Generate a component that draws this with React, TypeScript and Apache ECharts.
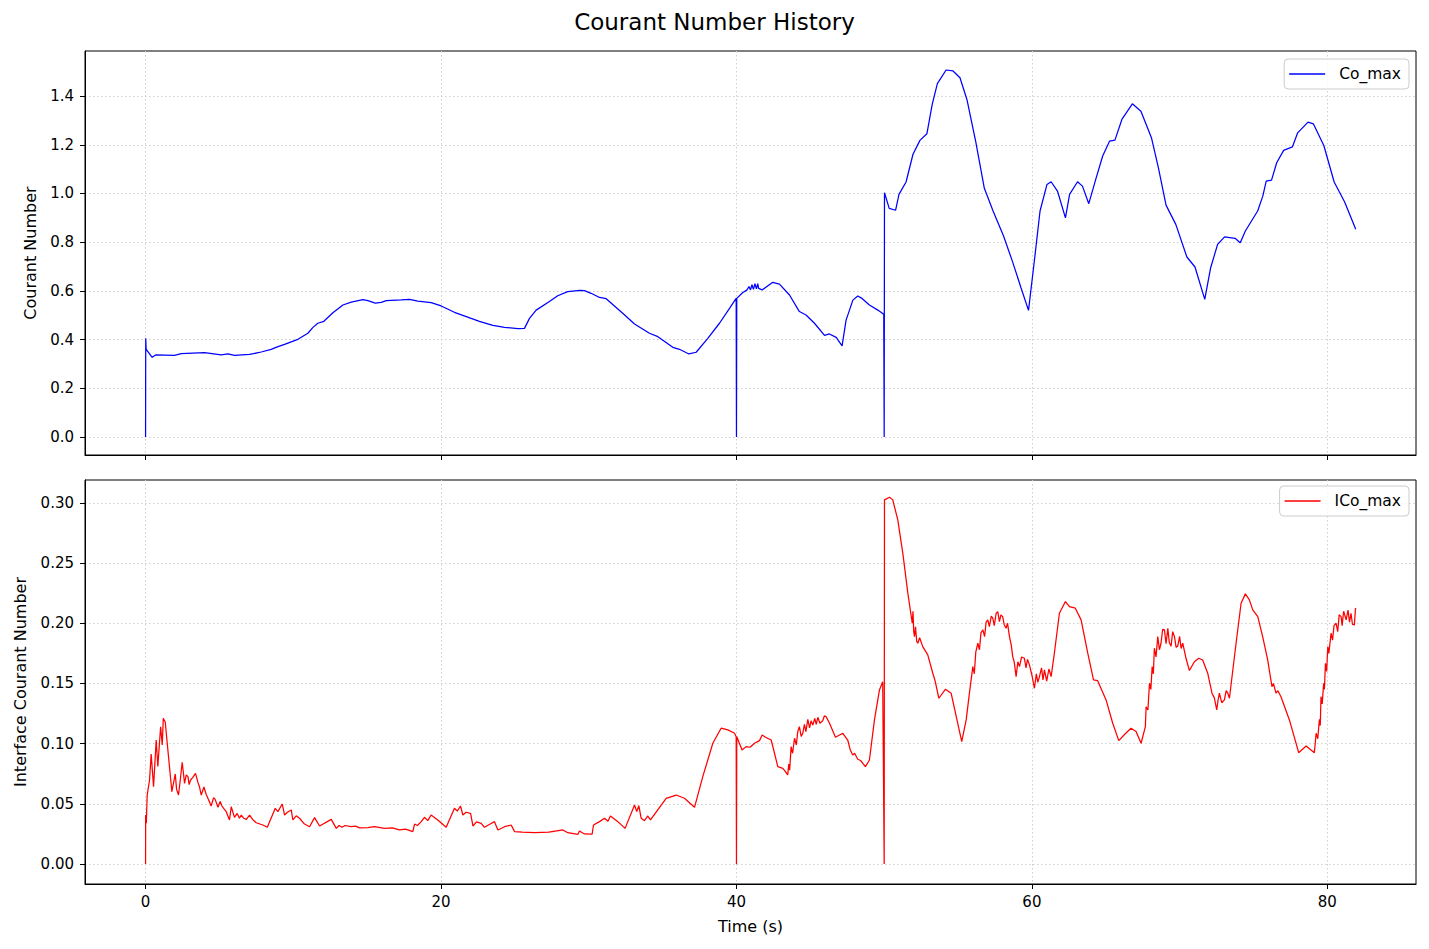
import React, { useEffect, useRef } from "react";
import * as echarts from "echarts";

const FONT = "DejaVu Sans";

const xTicks = [0, 20, 40, 60, 80];
const coTicks = [0, 0.2, 0.4, 0.6, 0.8, 1.0, 1.2, 1.4];
const icoTicks = [0, 0.05, 0.1, 0.15, 0.2, 0.25, 0.3];

const coMaxPoints: [number, number][] = [
  [0, 0], [0.01, 0.405], [0.04, 0.36], [0.45, 0.327], [0.68, 0.337], [1.96, 0.335], [2.41, 0.342],
  [3.99, 0.346], [5.12, 0.337], [5.57, 0.341], [6.02, 0.335], [7.04, 0.339], [7.83, 0.349], [8.5, 0.36],
  [8.96, 0.371], [9.41, 0.38], [10.31, 0.401], [10.99, 0.426], [11.33, 0.45], [11.66, 0.467], [12.07, 0.475],
  [12.68, 0.51], [13.36, 0.542], [13.92, 0.554], [14.71, 0.564], [15.05, 0.56], [15.55, 0.55], [15.95, 0.553],
  [16.29, 0.56], [17.3, 0.563], [17.87, 0.565], [18.43, 0.558], [19.33, 0.552], [20.01, 0.538], [20.91, 0.512],
  [22.04, 0.487], [22.6, 0.475], [23.51, 0.458], [24.3, 0.45], [25.2, 0.445], [25.65, 0.446], [25.99, 0.487],
  [26.44, 0.521], [27.34, 0.556], [27.9, 0.58], [28.58, 0.597], [29.4, 0.602], [29.71, 0.601], [30.16, 0.59],
  [30.73, 0.573], [31.18, 0.568], [32.3, 0.508], [33.1, 0.464], [34.11, 0.426], [34.68, 0.412], [35.69, 0.368],
  [36.14, 0.36], [36.78, 0.341], [37.27, 0.348], [38.06, 0.405], [38.85, 0.467], [39.53, 0.528], [39.98, 0.569],
  [40.0, 0], [40.02, 0.569], [40.43, 0.593], [40.7, 0.603], [40.85, 0.618], [40.95, 0.604], [41.05, 0.625],
  [41.15, 0.606], [41.25, 0.63], [41.35, 0.608], [41.44, 0.63], [41.5, 0.61], [41.74, 0.604], [42.46, 0.635],
  [42.91, 0.628], [43.59, 0.583], [44.26, 0.515], [44.71, 0.501], [45.28, 0.467], [45.96, 0.417], [46.29, 0.423],
  [46.75, 0.409], [47.15, 0.374], [47.42, 0.48], [47.88, 0.562], [48.21, 0.579], [48.5, 0.569], [49.0, 0.542],
  [49.57, 0.521], [49.97, 0.504], [50.0, 0], [50.02, 1.003], [50.34, 0.939], [50.77, 0.931], [51.0, 0.996],
  [51.48, 1.047], [51.95, 1.161], [52.42, 1.218], [52.89, 1.245], [53.25, 1.366], [53.6, 1.451], [54.19, 1.507],
  [54.66, 1.503], [55.13, 1.475], [55.6, 1.386], [56.19, 1.215], [56.78, 1.021], [57.37, 0.928], [58.08, 0.825],
  [58.67, 0.723], [59.26, 0.613], [59.77, 0.52], [60.19, 0.736], [60.55, 0.928], [61.02, 1.037], [61.3, 1.048],
  [61.73, 1.01], [62.27, 0.9], [62.55, 0.996], [63.09, 1.048], [63.42, 1.03], [63.85, 0.958], [64.32, 1.058],
  [64.79, 1.154], [65.26, 1.215], [65.62, 1.219], [66.09, 1.304], [66.8, 1.368], [67.38, 1.338], [68.09, 1.229],
  [68.56, 1.106], [69.08, 0.952], [69.74, 0.873], [70.49, 0.739], [71.04, 0.698], [71.7, 0.565], [72.1, 0.695],
  [72.57, 0.791], [73.04, 0.822], [73.75, 0.816], [74.1, 0.798], [74.45, 0.846], [75.28, 0.928], [75.63, 0.989],
  [75.86, 1.051], [76.22, 1.055], [76.57, 1.126], [77.04, 1.177], [77.63, 1.191], [77.99, 1.249], [78.69, 1.293],
  [79.05, 1.286], [79.76, 1.197], [80.46, 1.047], [81.17, 0.965], [81.92, 0.853],
];

const icoMaxPoints: [number, number][] = [
  [0, 0], [0.005, 0.0407], [0.05, 0.0338], [0.11, 0.0573], [0.27, 0.0698], [0.38, 0.0914], [0.54, 0.0643],
  [0.72, 0.103], [0.83, 0.081], [1.02, 0.114], [1.13, 0.0989], [1.2, 0.121], [1.33, 0.118], [1.51, 0.0947],
  [1.78, 0.0601], [2.01, 0.0748], [2.1, 0.062], [2.23, 0.0573], [2.35, 0.07], [2.48, 0.0845], [2.64, 0.067],
  [2.75, 0.074], [2.87, 0.0726], [2.95, 0.066], [3.05, 0.0698], [3.2, 0.072], [3.38, 0.0753], [3.54, 0.068],
  [3.65, 0.064], [3.77, 0.0573], [3.95, 0.064], [4.1, 0.058], [4.22, 0.0546], [4.35, 0.051], [4.44, 0.0482],
  [4.6, 0.055], [4.71, 0.0537], [4.9, 0.0471], [5.05, 0.052], [5.17, 0.0482], [5.3, 0.046], [5.46, 0.0435],
  [5.68, 0.0366], [5.8, 0.0476], [6.02, 0.0388], [6.2, 0.042], [6.35, 0.038], [6.48, 0.0407], [6.65, 0.038],
  [6.82, 0.0371], [7.04, 0.0407], [7.25, 0.037], [7.49, 0.0343], [7.94, 0.0324], [8.24, 0.0305], [8.78, 0.0463],
  [8.96, 0.0435], [9.25, 0.0499], [9.41, 0.0407], [9.6, 0.043], [9.86, 0.0449], [9.97, 0.0366], [10.2, 0.04],
  [10.42, 0.038], [10.76, 0.0332], [11.1, 0.031], [11.44, 0.0385], [11.78, 0.0316], [12.57, 0.0371],
  [12.91, 0.0296], [13.1, 0.032], [13.3, 0.0305], [13.5, 0.032], [13.92, 0.031], [14.2, 0.0315], [14.5, 0.03],
  [15.05, 0.0302], [15.5, 0.031], [16.18, 0.0296], [16.7, 0.03], [17.19, 0.0283], [17.6, 0.029], [18.09, 0.0269],
  [18.21, 0.0332], [18.4, 0.032], [18.66, 0.0352], [18.88, 0.0388], [19.1, 0.036], [19.33, 0.0407],
  [19.78, 0.0366], [20.35, 0.0305], [20.91, 0.0463], [21.1, 0.044], [21.32, 0.0482], [21.48, 0.0407],
  [21.7, 0.043], [22.0, 0.0421], [22.16, 0.0316], [22.4, 0.035], [22.72, 0.0338], [22.94, 0.0305], [23.3, 0.033],
  [23.62, 0.0352], [23.85, 0.0283], [24.3, 0.031], [24.75, 0.0324], [24.98, 0.0269], [25.5, 0.0265],
  [26.33, 0.026], [27.3, 0.0265], [28.25, 0.0283], [28.58, 0.026], [29.26, 0.0246], [29.37, 0.0274],
  [29.71, 0.025], [30.23, 0.0249], [30.32, 0.0324], [30.73, 0.0352], [31.07, 0.038], [31.3, 0.0355],
  [31.47, 0.0399], [31.97, 0.0352], [32.46, 0.0296], [33.1, 0.049], [33.25, 0.0435], [33.39, 0.0485],
  [33.55, 0.038], [33.77, 0.036], [34.0, 0.0399], [34.18, 0.0366], [35.24, 0.0546], [35.92, 0.0573],
  [36.48, 0.0546], [37.16, 0.0471], [37.72, 0.0726], [38.4, 0.1003], [38.96, 0.1128], [39.42, 0.1114],
  [39.87, 0.1086], [39.98, 0.1058], [40.0, 0], [40.02, 0.1058], [40.38, 0.0947], [40.65, 0.0975],
  [40.92, 0.097], [41.22, 0.1003], [41.56, 0.1025], [41.74, 0.1072], [41.96, 0.1053], [42.35, 0.103],
  [42.8, 0.0809], [43.14, 0.0795], [43.3, 0.077], [43.47, 0.074], [43.54, 0.083], [43.6, 0.078], [43.7, 0.0975],
  [43.8, 0.092], [43.93, 0.1045], [44.05, 0.099], [44.15, 0.11], [44.26, 0.1141], [44.38, 0.106],
  [44.49, 0.1086], [44.6, 0.116], [44.7, 0.11], [44.83, 0.1202], [44.95, 0.113], [45.05, 0.119],
  [45.17, 0.1155], [45.3, 0.121], [45.4, 0.116], [45.51, 0.1219], [45.65, 0.117], [45.84, 0.119],
  [45.95, 0.123], [46.07, 0.1224], [46.3, 0.1169], [46.7, 0.1053], [47.2, 0.1086], [47.53, 0.103],
  [47.7, 0.095], [47.87, 0.0906], [48.0, 0.092], [48.21, 0.087], [48.4, 0.086], [48.73, 0.0809], [49.0, 0.0864],
  [49.34, 0.1197], [49.68, 0.1446], [49.9, 0.1515], [50.0, 0], [50.02, 0.3025], [50.36, 0.3047],
  [50.58, 0.3025], [50.92, 0.2859], [51.26, 0.2582], [51.6, 0.225], [51.9, 0.2], [51.95, 0.21], [52.0, 0.193],
  [52.05, 0.1889], [52.12, 0.197], [52.2, 0.185], [52.28, 0.1834], [52.4, 0.188], [52.61, 0.1806],
  [52.95, 0.1737], [53.29, 0.1585], [53.45, 0.152], [53.7, 0.1377], [54.15, 0.1452], [54.53, 0.1419],
  [55.25, 0.1017], [55.55, 0.1197], [55.77, 0.1419], [56.0, 0.164], [56.1, 0.158], [56.2, 0.176],
  [56.34, 0.1834], [56.45, 0.178], [56.55, 0.192], [56.68, 0.1945], [56.8, 0.189], [56.9, 0.201],
  [57.01, 0.2028], [57.12, 0.1972], [57.25, 0.206], [57.35, 0.2042], [57.45, 0.198], [57.58, 0.2083],
  [57.69, 0.2097], [57.8, 0.2014], [57.9, 0.207], [58.02, 0.2055], [58.12, 0.199], [58.25, 0.1958],
  [58.35, 0.2], [58.48, 0.1889], [58.6, 0.182], [58.7, 0.1723], [58.8, 0.168], [58.93, 0.1557], [59.05, 0.168],
  [59.16, 0.164], [59.3, 0.172], [59.49, 0.1709], [59.6, 0.163], [59.7, 0.17], [59.83, 0.1654], [60.0, 0.157],
  [60.17, 0.146], [60.3, 0.158], [60.4, 0.151], [60.51, 0.1557], [60.65, 0.163], [60.75, 0.153],
  [60.85, 0.1612], [61.0, 0.152], [61.15, 0.162], [61.3, 0.1557], [61.52, 0.1751], [61.86, 0.2083],
  [62.27, 0.218], [62.54, 0.2138], [62.94, 0.2125], [63.33, 0.2028], [63.78, 0.1751], [64.17, 0.1529],
  [64.45, 0.1523], [65.02, 0.1363], [65.47, 0.1169], [65.88, 0.1025], [66.3, 0.108], [66.71, 0.1128],
  [67.05, 0.11], [67.39, 0.1003], [67.68, 0.1141], [67.73, 0.1307], [67.85, 0.128], [67.96, 0.1502],
  [68.05, 0.145], [68.14, 0.164], [68.22, 0.158], [68.29, 0.1793], [68.4, 0.172], [68.52, 0.1889],
  [68.63, 0.178], [68.74, 0.1834], [68.85, 0.195], [68.97, 0.1945], [69.08, 0.183], [69.2, 0.1958],
  [69.3, 0.184], [69.42, 0.181], [69.53, 0.193], [69.65, 0.1889], [69.76, 0.18], [69.87, 0.181], [70.0, 0.189],
  [70.1, 0.179], [70.21, 0.1834], [70.43, 0.1709], [70.66, 0.1607], [71.0, 0.168], [71.29, 0.1709],
  [71.56, 0.1695], [71.9, 0.1585], [72.19, 0.1419], [72.35, 0.138], [72.51, 0.128], [72.6, 0.136],
  [72.69, 0.1419], [72.85, 0.134], [73.03, 0.1363], [73.15, 0.144], [73.26, 0.1419], [73.37, 0.1377],
  [73.82, 0.1834], [74.16, 0.2166], [74.45, 0.2244], [74.72, 0.2194], [74.95, 0.2111], [75.29, 0.2055],
  [75.62, 0.1889], [75.96, 0.1695], [76.25, 0.1473], [76.35, 0.15], [76.52, 0.1419], [76.65, 0.144],
  [76.86, 0.139], [77.43, 0.1197], [78.06, 0.0925], [78.56, 0.0981], [79.12, 0.0925], [79.24, 0.1086],
  [79.35, 0.104], [79.46, 0.1202], [79.52, 0.115], [79.57, 0.139], [79.65, 0.133], [79.75, 0.1502],
  [79.8, 0.145], [79.87, 0.1668], [79.95, 0.16], [80.03, 0.1806], [80.1, 0.175], [80.25, 0.1917],
  [80.35, 0.186], [80.45, 0.198], [80.59, 0.2], [80.7, 0.193], [80.8, 0.207], [80.93, 0.2055], [81.0, 0.198],
  [81.1, 0.21], [81.27, 0.2028], [81.4, 0.211], [81.5, 0.201], [81.6, 0.2083], [81.7, 0.199], [81.83, 0.1986],
  [81.9, 0.212], [81.95, 0.2125],
];

const splitStyle = { show: true, lineStyle: { type: [1.5, 2.5], color: "#cfcfcf", width: 1 } };
const tickText = { color: "#000", fontSize: 15, fontFamily: FONT };
const nameText = { color: "#000", fontSize: 16, fontFamily: FONT };

function xAxisFor(gridIndex: number, showLabel: boolean) {
  return {
    type: "value",
    gridIndex,
    min: -4.1,
    max: 86,
    splitNumber: 5,
    axisLine: { show: true, onZero: false, lineStyle: { color: "#000", width: 1 } },
    axisTick: { show: true, inside: false, length: 5, customValues: xTicks, lineStyle: { color: "#000", width: 1 } },
    axisLabel: { show: showLabel, customValues: xTicks, margin: 10, ...tickText, formatter: (v: number) => String(v) },
    splitLine: splitStyle,
    name: showLabel ? "Time (s)" : "",
    nameLocation: "middle",
    nameGap: 34,
    nameTextStyle: nameText,
  };
}

function yAxisFor(gridIndex: number, min: number, max: number, ticks: number[], digits: number, name: string, gap: number) {
  return {
    type: "value",
    gridIndex,
    min,
    max,
    axisLine: { show: true, onZero: false, lineStyle: { color: "#000", width: 1 } },
    axisTick: { show: true, inside: false, length: 5, customValues: ticks, lineStyle: { color: "#000", width: 1 } },
    axisLabel: { show: true, customValues: ticks, margin: 11, ...tickText, formatter: (v: number) => v.toFixed(digits) },
    splitLine: splitStyle,
    name,
    nameLocation: "middle",
    nameGap: gap,
    nameTextStyle: nameText,
  };
}

function legendFor(name: string, top: number) {
  return {
    data: [name],
    right: 20,
    top,
    orient: "vertical",
    icon: "rect",
    itemWidth: 36,
    itemHeight: 1.5,
    padding: [7, 8, 7, 5],
    borderColor: "#cccccc",
    borderWidth: 1,
    borderRadius: 4,
    backgroundColor: "rgba(255,255,255,0.8)",
    selectedMode: false,
    textStyle: { color: "#000", fontSize: 15.5, fontFamily: FONT, padding: [0, 0, 0, 9] },
  };
}

export default function App() {
  const ref = useRef<HTMLDivElement>(null);
  useEffect(() => {
    document.body.style.margin = "0";
    if (!ref.current) return;
    const chart = echarts.init(ref.current, null, { renderer: "svg" });
    chart.setOption({
      animation: false,
      backgroundColor: "#fff",
      textStyle: { fontFamily: FONT },
      title: {
        text: "Courant Number History",
        left: "center",
        top: 5,
        textStyle: { color: "#000", fontSize: 23, fontWeight: "normal", fontFamily: FONT },
      },
      grid: [
        { left: 85, top: 51, width: 1331, height: 404, show: true, borderColor: "#000", borderWidth: 1, backgroundColor: "transparent" },
        { left: 85, top: 480, width: 1331, height: 404, show: true, borderColor: "#000", borderWidth: 1, backgroundColor: "transparent" },
      ],
      xAxis: [xAxisFor(0, false), xAxisFor(1, true)],
      yAxis: [
        yAxisFor(0, -0.074, 1.585, coTicks, 1, "Courant Number", 47),
        yAxisFor(1, -0.0166, 0.319, icoTicks, 2, "Interface Courant Number", 57),
      ],
      legend: [legendFor("Co_max", 59), legendFor("ICo_max", 486)],
      series: [
        {
          type: "line",
          name: "Co_max",
          xAxisIndex: 0,
          yAxisIndex: 0,
          data: coMaxPoints,
          symbol: "none",
          showSymbol: false,
          silent: true,
          lineStyle: { color: "#0000ff", width: 1.25 },
          itemStyle: { color: "#0000ff" },
        },
        {
          type: "line",
          name: "ICo_max",
          xAxisIndex: 1,
          yAxisIndex: 1,
          data: icoMaxPoints,
          symbol: "none",
          showSymbol: false,
          silent: true,
          lineStyle: { color: "#ff0000", width: 1.25 },
          itemStyle: { color: "#ff0000" },
        },
      ],
    });
    return () => chart.dispose();
  }, []);
  return <div ref={ref} style={{ width: 1429, height: 949 }} />;
}
